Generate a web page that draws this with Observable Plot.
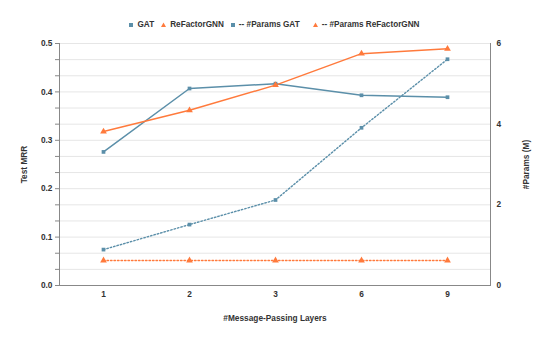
<!DOCTYPE html>
<html><head><meta charset="utf-8">
<script src="https://cdn.jsdelivr.net/npm/d3@7"></script>
<script src="https://cdn.jsdelivr.net/npm/@observablehq/plot@0.6"></script>
<style>
body{margin:0;background:#fff;font-family:"Liberation Sans",Arial,sans-serif;}
#legend{height:32px;display:flex;justify-content:center;align-items:flex-end;font-size:8.2px;font-weight:bold;color:#333;box-sizing:border-box;padding-bottom:3px;padding-left:2px}
.it{display:flex;align-items:center;margin-right:7px}
.sw{margin-right:4px}
</style></head><body>
<div id="legend"></div>
<div id="chart"></div>
<script>
const layers = ["1","2","3","6","9"];
const gatMRR = [0.276, 0.407, 0.417, 0.393, 0.389];
const refMRR = [0.318, 0.362, 0.414, 0.479, 0.489];
const gatParams = [0.89, 1.51, 2.12, 3.91, 5.61];
const refParams = [0.62, 0.62, 0.62, 0.62, 0.62];
const leftTicks = [0, 0.1, 0.2, 0.3, 0.4, 0.5];
const rightTicks = [0, 2, 4, 6];
const legendNames = ["GAT", "ReFactorGNN", "-- #Params GAT", "-- #Params ReFactorGNN"];

const BLUE = "#5b8fa9", ORANGE = "#ff7a3c";
const toLeft = p => p / 12; // 6M maps to 0.5

const rows = (vals, series, tf = v => v) => layers.map((l, i) => ({x: l, y: tf(vals[i]), series}));
const gat = rows(gatMRR, "GAT");
const ref = rows(refMRR, "ReFactorGNN");
const gp = rows(gatParams, "pGAT", toLeft);
const rp = rows(refParams, "pRef", toLeft);

const grid = d3.range(16).map(i => i * 0.5 / 15);

const chart = Plot.plot({
  width: 547, height: 306,
  marginLeft: 59, marginRight: 57, marginTop: 11, marginBottom: 53,
  style: {fontFamily: "Liberation Sans, Arial, sans-serif", fontSize: "8.3px", fontWeight: "bold", color: "#333"},
  x: {type: "point", domain: layers, padding: 0.5},
  y: {domain: [0, 0.5]},
  marks: [
    Plot.ruleY(grid, {stroke: "#e6e6e6", strokeWidth: 1}),
    Plot.frame({anchor: "left", stroke: "#888"}),
    Plot.frame({anchor: "right", stroke: "#888"}),
    Plot.frame({anchor: "bottom", stroke: "#888"}),
    Plot.axisX({tickSize: 0, tickPadding: 6, label: "#Message-Passing Layers", labelAnchor: "center", labelArrow: "none", labelOffset: 35}),
    Plot.axisY({ticks: grid, tickSize: 4, tickPadding: 3, stroke: "#888",
      tickFormat: d => leftTicks.some(t => Math.abs(t - d) < 1e-9) ? d.toFixed(1) : "",
      label: "Test MRR", labelAnchor: "center", labelArrow: "none", labelOffset: 38}),
    Plot.axisY(rightTicks.map(toLeft), {anchor: "right", tickSize: 0, tickPadding: 6,
      tickFormat: d => String(Math.round(d * 12)),
      label: "#Params (M)", labelAnchor: "center", labelArrow: "none", labelOffset: 38}),
    Plot.line(gp, {x: "x", y: "y", stroke: BLUE, strokeWidth: 1.4, strokeDasharray: "1.5,2"}),
    Plot.line(rp, {x: "x", y: "y", stroke: ORANGE, strokeWidth: 1.4, strokeDasharray: "1.5,2"}),
    Plot.line(gat, {x: "x", y: "y", stroke: BLUE, strokeWidth: 1.5}),
    Plot.line(ref, {x: "x", y: "y", stroke: ORANGE, strokeWidth: 1.5}),
    Plot.dot(gp, {x: "x", y: "y", symbol: "square", fill: BLUE, r: 2.1}),
    Plot.dot(rp, {x: "x", y: "y", symbol: "triangle", fill: ORANGE, r: 2.5}),
    Plot.dot(gat, {x: "x", y: "y", symbol: "square", fill: BLUE, r: 2.1}),
    Plot.dot(ref, {x: "x", y: "y", symbol: "triangle", fill: ORANGE, r: 2.5})
  ]
});
document.getElementById("chart").appendChild(chart);

const sq = c => `<svg class="sw" width="4" height="6"><rect width="4" height="4" y="1" fill="${c}"/></svg>`;
const tri = c => `<svg class="sw" width="5" height="6"><path d="M2.5,0.5 L5,5 L0,5Z" fill="${c}"/></svg>`;
const marks = [sq(BLUE), tri(ORANGE), sq(BLUE), tri(ORANGE)];
document.getElementById("legend").innerHTML = legendNames.map((n, i) =>
  `<span class="it" style="${i===2?'margin-right:13px':''}${i===3?'margin-right:0':''}">${marks[i]}${n}</span>`).join("");
</script>
</body></html>
